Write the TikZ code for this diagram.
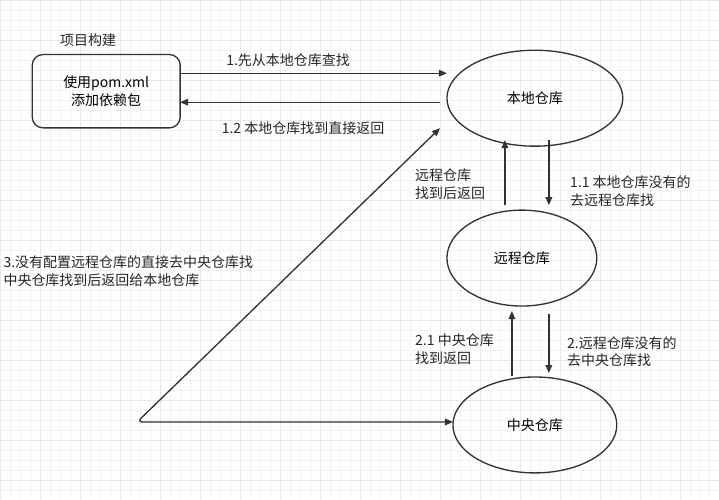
\documentclass[tikz,border=0pt]{standalone}
\usepackage{fontspec}
\setmainfont{Noto Sans CJK SC}
\usetikzlibrary{shapes.geometric,arrows.meta}
\begin{document}
\begin{tikzpicture}[x=0.75pt,y=-0.75pt,
  ell/.style={draw=black!80,line width=1pt,ellipse,minimum width=#1*0.75pt,minimum height=72pt,inner sep=0pt,font=\fontsize{10.5}{13}\selectfont},
  lbl/.style={font=\fontsize{10.5}{13}\selectfont,align=left,inner sep=0pt,text=black!85},
  arr/.style={draw=black!80,line width=1pt,-{Triangle[length=6pt,width=5pt]}}]
\fill[white] (0,0) rectangle (719,499);
\foreach \i in {0,10,...,719} \draw[black!5,line width=0.4pt] (\i,0)--(\i,499);
\foreach \i in {0,10,...,499} \draw[black!5,line width=0.4pt] (0,\i)--(719,\i);
\foreach \i in {0,40,...,719} \draw[black!9,line width=0.4pt] (\i,0)--(\i,499);
\foreach \i in {0,40,...,499} \draw[black!9,line width=0.4pt] (0,\i)--(719,\i);
\useasboundingbox (0,0) rectangle (719,499);
\node[draw=black!80,line width=1pt,rounded corners=8pt,minimum width=111pt,minimum height=55pt,align=center,font=\fontsize{10.5}{13}\selectfont] (box) at (106,91) {使用pom.xml\\添加依赖包};
\node[lbl] (t0) at (88,40) {项目构建};
\node[ell=176] (loc) at (535,98) {本地仓库};
\node[ell=150] (rem) at (522,258) {远程仓库};
\node[ell=164] (cen) at (535,425) {中央仓库};
\coordinate (a1s) at (180,73); \coordinate (a1e) at (447,73);
\draw[arr] (a1s) -- (a1e);
\coordinate (a2s) at (440,102); \coordinate (a2e) at (180,102);
\draw[arr] (a2s) -- (a2e);
\coordinate (v1s) at (549,140); \coordinate (v1e) at (549,205);
\draw[arr] (v1s) -- (v1e);
\coordinate (v2s) at (505,205); \coordinate (v2e) at (505,140);
\draw[arr] (v2s) -- (v2e);
\coordinate (v3s) at (512,376); \coordinate (v3e) at (512,311);
\draw[arr] (v3s) -- (v3e);
\coordinate (v4s) at (549,314); \coordinate (v4e) at (549,373);
\draw[arr] (v4s) -- (v4e);
\coordinate (c1) at (137,422);
\coordinate (c2) at (440,128);
\coordinate (c3) at (453,422);
\draw[draw=black!80,line width=1pt,{Triangle[length=6pt,width=5pt]}-{Triangle[length=6pt,width=5pt]},rounded corners=4pt] (c2) -- (c1) -- (c3);
\node[lbl] at (288,60) {1.先从本地仓库查找};
\node[lbl] at (303,128) {1.2 本地仓库找到直接返回};
\node[lbl,anchor=west] at (415,184) {远程仓库\\找到后返回};
\node[lbl,anchor=west] at (570,191) {1.1 本地仓库没有的\\去远程仓库找};
\node[lbl,anchor=west] at (3,271) {3.没有配置远程仓库的直接去中央仓库找\\中央仓库找到后返回给本地仓库};
\node[lbl,anchor=west] at (415,349) {2.1 中央仓库\\找到返回};
\node[lbl,anchor=west] at (567,352) {2.远程仓库没有的\\去中央仓库找};
\end{tikzpicture}
\end{document}
